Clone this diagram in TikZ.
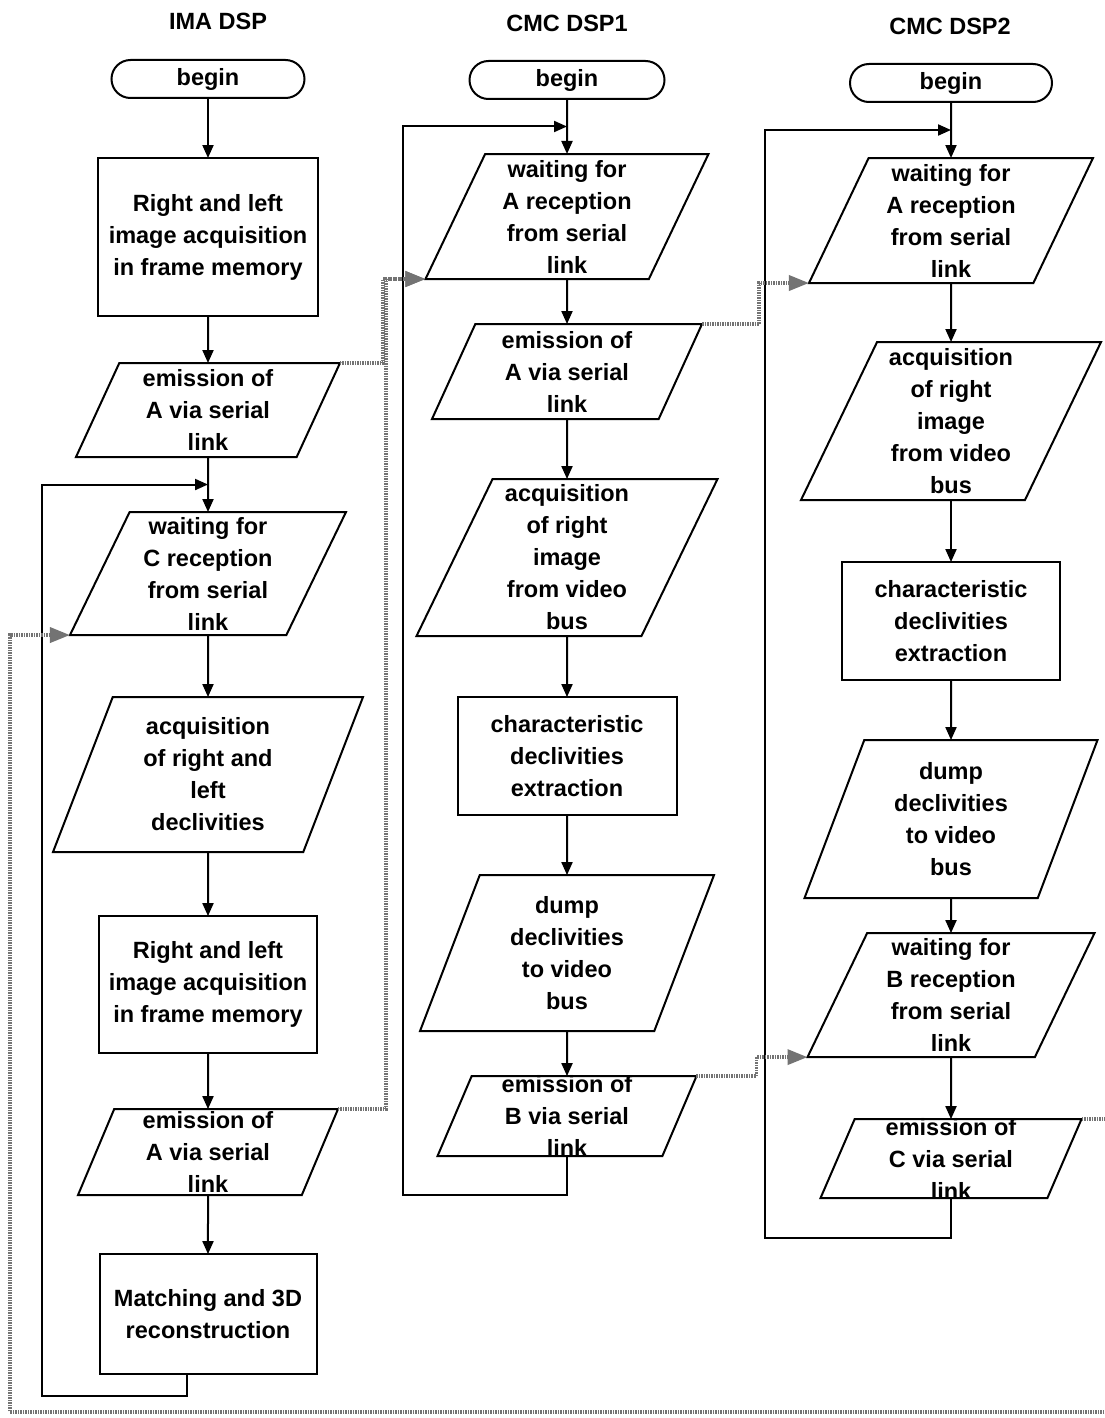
\documentclass[tikz,border=0pt]{standalone}
\usepackage{fontspec}
\setmainfont{Liberation Sans}
\usetikzlibrary{arrows.meta, calc, positioning, shapes.geometric, shapes.misc}
\tikzstyle{flowchart}=[x=1pt, y=-1pt, line width=2pt, >={Triangle[length=13pt,width=11pt]}, font=\fontsize{23.5}{32}\selectfont\bfseries]
\tikzstyle{term}=[draw, rounded rectangle, minimum width=193pt, minimum height=38pt, inner sep=0pt, outer sep=0pt]
\tikzstyle{proc}=[draw, rectangle, align=center, inner sep=2pt, outer sep=0pt]
\tikzstyle{io}=[draw, trapezium, trapezium left angle=63, trapezium right angle=117, trapezium stretches body, align=center, inner sep=2pt, outer sep=0pt]
\tikzstyle{signal}=[black!55, line width=3.5pt, dash pattern=on 1.5pt off 1pt, -{Triangle[length=20pt,width=15pt]}]

\begin{document}
\begin{tikzpicture}[flowchart]
  \useasboundingbox (0,0) rectangle (1104,1418);
  \fill[white] (0,0) rectangle (1104,1418);
  % IMA DSP
  \node (h1) at (218,21) {IMA DSP};
  \node[term] (i0) at (208,79) {begin};
  \node[proc, minimum width=220pt, minimum height=158pt] (i1) [below=60pt of i0] {Right and left\\image acquisition\\in frame memory};
  \node[io, minimum width=264pt, minimum height=94pt] (i2) [below=47pt of i1] {emission of\\A via serial\\link};
  \node[io, minimum width=276pt, minimum height=123pt] (i3) [below=55pt of i2] {waiting for\\C reception\\from serial\\link};
  \node[io, minimum width=310pt, minimum height=155pt] (i4) [below=62pt of i3] {acquisition\\of right and\\left\\declivities};
  \node[proc, minimum width=218pt, minimum height=137pt] (i5) [below=64pt of i4] {Right and left\\image acquisition\\in frame memory};
  \node[io, minimum width=260pt, minimum height=86pt, inner ysep=-5pt] (i6) [below=56pt of i5] {emission of\\A via serial\\link};
  \node[proc, minimum width=217pt, minimum height=120pt] (i7) [below=59pt of i6] {Matching and 3D\\reconstruction};
  % CMC DSP1
  \node (h2) at (567,23) {CMC DSP1};
  \node[term, minimum width=195pt] (p0) at (567,80) {begin};
  \node[io, minimum width=283pt, minimum height=125pt] (p1) [below=55pt of p0] {waiting for\\A reception\\from serial\\link};
  \node[io, minimum width=270pt, minimum height=95pt] (p2) [below=45pt of p1] {emission of\\A via serial\\link};
  \node[io, minimum width=301pt, minimum height=157pt] (p3) [below=60pt of p2] {acquisition\\of right\\image\\from video\\bus};
  \node[proc, minimum width=219pt, minimum height=118pt] (p4) [below=61pt of p3] {characteristic\\declivities\\extraction};
  \node[io, minimum width=294pt, minimum height=156pt] (p5) [below=60pt of p4] {dump\\declivities\\to video\\bus};
  \node[io, minimum width=259pt, minimum height=80pt, inner ysep=-7pt] (p6) [below=45pt of p5] {emission of\\B via serial\\link};
  % CMC DSP2
  \node (h3) at (950,26) {CMC DSP2};
  \node[term, minimum width=202pt] (q0) at (951,83) {begin};
  \node[io, minimum width=284pt, minimum height=125pt] (q1) [below=56pt of q0] {waiting for\\A reception\\from serial\\link};
  \node[io, minimum width=300pt, minimum height=158pt] (q2) [below=59pt of q1] {acquisition\\of right\\image\\from video\\bus};
  \node[proc, minimum width=218pt, minimum height=118pt] (q3) [below=62pt of q2] {characteristic\\declivities\\extraction};
  \node[io, minimum width=293pt, minimum height=158pt] (q4) [below=60pt of q3] {dump\\declivities\\to video\\bus};
  \node[io, minimum width=287pt, minimum height=124pt] (q5) [below=35pt of q4] {waiting for\\B reception\\from serial\\link};
  \node[io, minimum width=261pt, minimum height=79pt, inner ysep=-7pt] (q6) [below=62pt of q5] {emission of\\C via serial\\link};

  \foreach \a/\b in {i0/i1, i1/i2, i2/i3, i3/i4, i4/i5, i5/i6, i6/i7,
                     p0/p1, p1/p2, p2/p3, p3/p4, p4/p5, p5/p6,
                     q0/q1, q1/q2, q2/q3, q3/q4, q4/q5, q5/q6}
    \path[->] (\a) edge (\b);

  % loops back to the waiting states
  \coordinate (j1) at ($(i2.south)!.5!(i3.north)$);
  \coordinate (j2) at ($(p0.south)!.5!(p1.north)$);
  \coordinate (j3) at ($(q0.south)!.5!(q1.north)$);
  \coordinate (l1) at ([xshift=-166pt]j1);
  \coordinate (l2) at ([xshift=-164pt]j2);
  \coordinate (l3) at ([xshift=-186pt]j3);
  \draw[->] ([xshift=-21pt]i7.south) -- ++(0,22) -| (l1) -- (j1);
  \draw[->] (p6.south) -- ++(0,39) -| (l2) -- (j2);
  \draw[->] (q6.south) -- ++(0,40) -| (l3) -- (j3);

  % serial links
  \coordinate (s1) at (10,1412);
  \draw[signal] (i2.top right corner) -- ++(43,0) |- (p1.bottom left corner);
  \draw[signal] (i6.top right corner) -- ++(48,0) |- (p1.bottom left corner);
  \draw[signal] (p2.top right corner) -- ++(57,0) |- (q1.bottom left corner);
  \draw[signal] (p6.top right corner) -- ++(60,0) |- (q5.bottom left corner);
  \draw[signal] (q6.top right corner) -- ++(45,0) |- (s1) |- (i3.bottom left corner);
\end{tikzpicture}
\end{document}
